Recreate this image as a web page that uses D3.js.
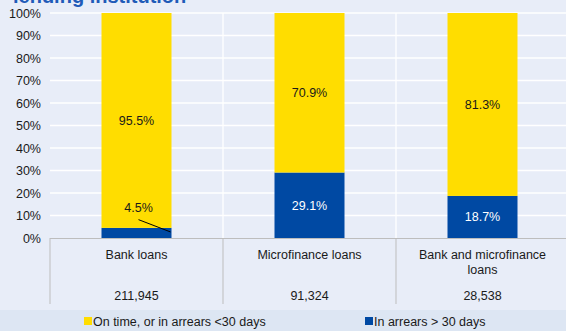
<!DOCTYPE html>
<html>
<head>
<meta charset="utf-8">
<script src="https://cdn.jsdelivr.net/npm/d3@7"></script>
<style>
  html, body { margin: 0; padding: 0; background: #e8edf8; }
  svg { display: block; font-family: "Liberation Sans", Arial, sans-serif; }
</style>
</head>
<body>
<svg id="chart" width="566" height="331"></svg>
<script>
// Loan status by lending institution (share of loans, %)
const categories = ["Bank loans", "Microfinance loans", "Bank and microfinance loans"];
const categoryLines = [["Bank loans"], ["Microfinance loans"], ["Bank and microfinance", "loans"]];
const loanCounts = ["211,945", "91,324", "28,538"];
const arrears = [4.5, 29.1, 18.7];
const onTime = [95.5, 70.9, 81.3];
const yTicks = [0, 10, 20, 30, 40, 50, 60, 70, 80, 90, 100];
const seriesNames = ["On time, or in arrears <30 days", "In arrears > 30 days"];
const colors = { onTime: "#ffdd00", arrears: "#0049a3" };

const svg = d3.select("#chart");
const W = 566, H = 331;
const margin = { left: 50, right: -3, top: 13, bottom: 93 };
const plotBottom = H - margin.bottom;

// band behind the legend
svg.append("rect").attr("x", 0).attr("y", 310).attr("width", W).attr("height", H - 310)
  .attr("fill", "#dde6f3");

// title, running off the top edge
svg.append("text").attr("x", 13).attr("y", 3)
  .attr("fill", "#1f5bb8").attr("font-weight", "bold").attr("font-size", 20)
  .text("lending institution");

const x = d3.scaleBand().domain(categories)
  .range([margin.left, W - margin.right]).paddingInner(0).paddingOuter(0);
const y = d3.scaleLinear().domain([0, 100]).range([plotBottom, margin.top]);

// gridlines
const grid = svg.append("g");
grid.selectAll("line.h").data(yTicks.filter(t => t > 0)).join("line")
  .attr("x1", margin.left).attr("x2", W)
  .attr("y1", d => y(d)).attr("y2", d => y(d))
  .attr("stroke", "#ffffff").attr("stroke-width", 1.3);
grid.selectAll("line.v").data(categories.slice(1)).join("line")
  .attr("x1", d => x(d)).attr("x2", d => x(d))
  .attr("y1", margin.top).attr("y2", plotBottom)
  .attr("stroke", "#ffffff").attr("stroke-width", 1.3);

// y axis labels
const yAxis = d3.axisLeft(y).tickValues(yTicks).tickSize(0).tickPadding(9)
  .tickFormat(d => d + "%");
const gy = svg.append("g").attr("transform", `translate(${margin.left},0)`).call(yAxis);
gy.select(".domain").remove();
gy.selectAll("text").attr("font-size", 12.5).attr("fill", "#1a1a1a")
  .attr("font-family", "Liberation Sans, Arial, sans-serif");

// stacked bars
const barW = 70;
const bars = svg.append("g");
categories.forEach((c, i) => {
  const cx = x(c) + x.bandwidth() / 2;
  bars.append("rect").attr("x", cx - barW / 2).attr("width", barW)
    .attr("y", y(arrears[i])).attr("height", y(0) - y(arrears[i]))
    .attr("fill", colors.arrears);
  bars.append("rect").attr("x", cx - barW / 2).attr("width", barW)
    .attr("y", y(arrears[i] + onTime[i])).attr("height", y(arrears[i]) - y(arrears[i] + onTime[i]))
    .attr("fill", colors.onTime);
});

// value labels
const labels = svg.append("g").attr("font-size", 12.5).attr("text-anchor", "middle");
categories.forEach((c, i) => {
  const cx = x(c) + x.bandwidth() / 2;
  labels.append("text").attr("x", cx).attr("y", y(arrears[i] + onTime[i] / 2)).attr("dy", "0.35em")
    .attr("fill", "#1a1a1a").text(onTime[i].toFixed(1) + "%");
  if (i === 0) {
    // small segment: label lifted above with a leader line
    const ly = y(arrears[i] + 9);
    labels.append("text").attr("x", cx + 2).attr("y", ly).attr("dy", "0.35em")
      .attr("fill", "#1a1a1a").text(arrears[i].toFixed(1) + "%");
    svg.append("line").attr("x1", cx + 2).attr("y1", ly + 12)
      .attr("x2", cx + barW / 2 - 1).attr("y2", y(arrears[i] / 2) - 1)
      .attr("stroke", "#000").attr("stroke-width", 1);
  } else {
    labels.append("text").attr("x", cx).attr("y", y(arrears[i] / 2)).attr("dy", "0.35em")
      .attr("fill", "#ffffff").text(arrears[i].toFixed(1) + "%");
  }
});

// category table under the axis
const table = svg.append("g");
table.append("line").attr("x1", margin.left).attr("x2", W)
  .attr("y1", plotBottom + 0.5).attr("y2", plotBottom + 0.5)
  .attr("stroke", "#bdbdbd").attr("stroke-width", 1);
categories.forEach(c => {
  table.append("line").attr("x1", x(c)).attr("x2", x(c))
    .attr("y1", plotBottom).attr("y2", 304)
    .attr("stroke", "#bdbdbd").attr("stroke-width", 1);
});
categories.forEach((c, i) => {
  const cx = x(c) + x.bandwidth() / 2;
  const t = table.append("text").attr("x", cx).attr("y", 259)
    .attr("text-anchor", "middle").attr("font-size", 12.5).attr("fill", "#1a1a1a");
  categoryLines[i].forEach((line, j) => {
    t.append("tspan").attr("x", cx).attr("dy", j === 0 ? 0 : 15).text(line);
  });
  table.append("text").attr("x", cx).attr("y", 300)
    .attr("text-anchor", "middle").attr("font-size", 12.5).attr("fill", "#1a1a1a")
    .text(loanCounts[i]);
});

// legend
const legend = svg.append("g").attr("font-size", 12.5).attr("fill", "#1a1a1a");
const legendX = [84, 365];
const legendColors = [colors.onTime, colors.arrears];
seriesNames.forEach((name, i) => {
  legend.append("rect").attr("x", legendX[i]).attr("y", 317).attr("width", 8).attr("height", 8)
    .attr("fill", legendColors[i]);
  legend.append("text").attr("x", legendX[i] + 9).attr("y", 326).text(name);
});
</script>
</body>
</html>
